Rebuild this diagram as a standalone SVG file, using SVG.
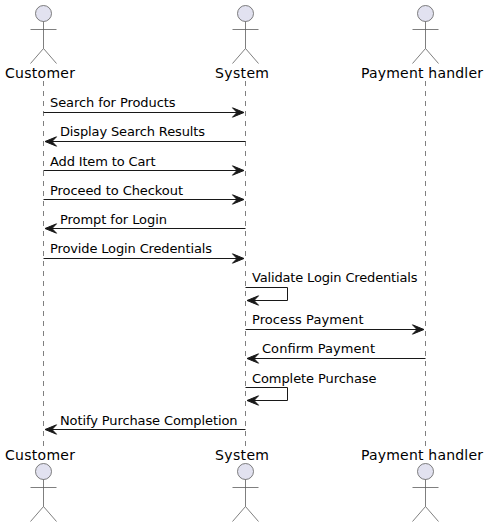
<svg xmlns="http://www.w3.org/2000/svg" width="489" height="527" viewBox="0 0 489 527">
<style>
text{font-family:"DejaVu Sans",sans-serif;fill:#000}
.m{font-size:13px}
.a{font-size:14px}
.life{stroke:#808080;stroke-width:1;stroke-dasharray:5 5;fill:none}
.h{fill:#E2E2F0;stroke:#5E5E5E;stroke-width:.8}
.b{stroke:#5E5E5E;stroke-width:.8;fill:none}
.c{stroke:#181818;stroke-width:1;fill:none}
.t{fill:#181818;stroke:#181818;stroke-width:1}
</style>
<defs>
<g id="fig"><circle class="h" cx="0" cy="13" r="8"/><path class="b" d="M0 21V48M-13 29H13M0 48L-13 63M0 48L13 63"/></g>
<path id="r" class="t" d="M-11.5-4.7L0 0L-11.5 4.7L-7 0Z"/>
<path id="l" class="t" d="M11.5-4.7L0 0L11.5 4.7L7 0Z"/>
</defs>
<g id="lifelines">
<path class="life" d="M43.5 81V446"/>
<path class="life" d="M245.5 81V446"/>
<path class="life" d="M425.5 81V446"/>
</g>
<g id="customer-top"><use href="#fig" x="43.5" y="0.5"/><text class="a" x="5" y="78" textLength="70">Customer</text></g>
<g id="system-top"><use href="#fig" x="245.5" y="0.5"/><text class="a" x="215" y="78" textLength="54">System</text></g>
<g id="payment-top"><use href="#fig" x="425.5" y="0.5"/><text class="a" x="361" y="78" textLength="122">Payment handler</text></g>
<g id="customer-bottom"><use href="#fig" x="43.5" y="458.5"/><text class="a" x="5" y="460" textLength="70">Customer</text></g>
<g id="system-bottom"><use href="#fig" x="245.5" y="458.5"/><text class="a" x="215" y="460" textLength="54">System</text></g>
<g id="payment-bottom"><use href="#fig" x="425.5" y="458.5"/><text class="a" x="361" y="460" textLength="122">Payment handler</text></g>
<g id="connectors">
<path class="c" d="M43.5 112.5H240"/><use href="#r" x="244" y="112.5"/>
<path class="c" d="M49 141.5H245.5"/><use href="#l" x="45" y="141.5"/>
<path class="c" d="M43.5 170.5H240"/><use href="#r" x="244" y="170.5"/>
<path class="c" d="M43.5 199.5H240"/><use href="#r" x="244" y="199.5"/>
<path class="c" d="M49 228.5H245.5"/><use href="#l" x="45" y="228.5"/>
<path class="c" d="M43.5 258.5H240"/><use href="#r" x="244" y="258.5"/>
<path class="c" d="M245.5 287.5H287.5V300.5H251"/><use href="#l" x="247" y="300.5"/>
<path class="c" d="M245.5 329.5H420"/><use href="#r" x="424" y="329.5"/>
<path class="c" d="M251 358.5H425.5"/><use href="#l" x="247" y="358.5"/>
<path class="c" d="M245.5 387.5H287.5V400.5H251"/><use href="#l" x="247" y="400.5"/>
<path class="c" d="M49 429.5H245.5"/><use href="#l" x="45" y="429.5"/>
</g>
<g id="labels">
<text class="m" x="50" y="107" textLength="125.5">Search for Products</text>
<text class="m" x="60" y="136" textLength="145">Display Search Results</text>
<text class="m" x="50" y="166" textLength="105.5">Add Item to Cart</text>
<text class="m" x="50" y="195" textLength="133">Proceed to Checkout</text>
<text class="m" x="60" y="224" textLength="107">Prompt for Login</text>
<text class="m" x="50" y="253" textLength="162">Provide Login Credentials</text>
<text class="m" x="252" y="282" textLength="165.5">Validate Login Credentials</text>
<text class="m" x="252" y="324" textLength="111.5">Process Payment</text>
<text class="m" x="262" y="353" textLength="113">Confirm Payment</text>
<text class="m" x="252" y="383" textLength="124.5">Complete Purchase</text>
<text class="m" x="60" y="425" textLength="177.5">Notify Purchase Completion</text>
</g>
</svg>
